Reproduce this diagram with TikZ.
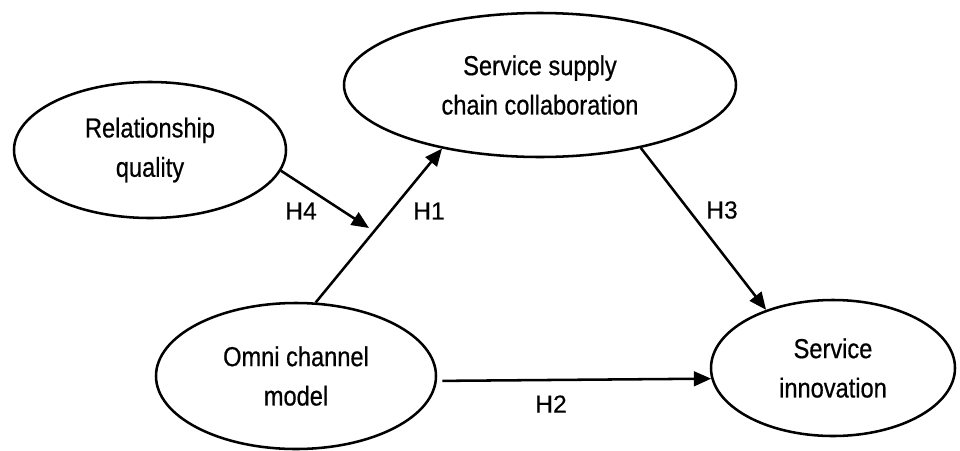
\documentclass[tikz,border=0pt]{standalone}
\usepackage{fontspec}
\setmainfont{Liberation Sans}[FakeStretch=0.86,FakeBold=0.6]
\newfontfamily\labelfont{Liberation Sans}[FakeBold=0.3]
\usetikzlibrary{shapes.geometric,arrows.meta}
\begin{document}
\begin{tikzpicture}[x=0.75pt,y=-0.75pt,
  oval/.style={ellipse,draw,line width=1.9pt,inner sep=0pt,align=center,
    font=\fontsize{20.6pt}{29.5pt}\selectfont},
  arr/.style={line width=1.9pt,-{Triangle[length=13pt,width=11pt]}},
  hlab/.style={font=\labelfont\fontsize{18.5pt}{20pt}\selectfont}]
\useasboundingbox (0,0) rectangle (960,450);
\node[oval,minimum width=204pt,minimum height=102pt] (rq) at (150,150) {Relationship\\quality};
\node[oval,minimum width=294pt,minimum height=108pt] (sscc) at (540,85) {Service supply\\chain collaboration};
\node[oval,minimum width=210pt,minimum height=109.5pt] (omni) at (296,376) {Omni channel\\model};
\node[oval,minimum width=183pt,minimum height=102pt] (si) at (833,368) {Service\\innovation};
\coordinate (h4end) at (369,228);
\draw[arr] (omni.75.6) -- (sscc.213.3);
\draw[arr] (rq.-9.5) -- (h4end);
\draw[arr] (sscc.-32.2) -- (si.139.4);
\draw[arr,shorten <=4pt] (omni.-2) -- (si.185.6);
\node[hlab] (h4) at (301,211) {H4};
\node[hlab] (h1) at (429,211) {H1};
\node[hlab] (h3) at (722,210) {H3};
\node[hlab] (h2) at (551,404) {H2};
\end{tikzpicture}
\end{document}
